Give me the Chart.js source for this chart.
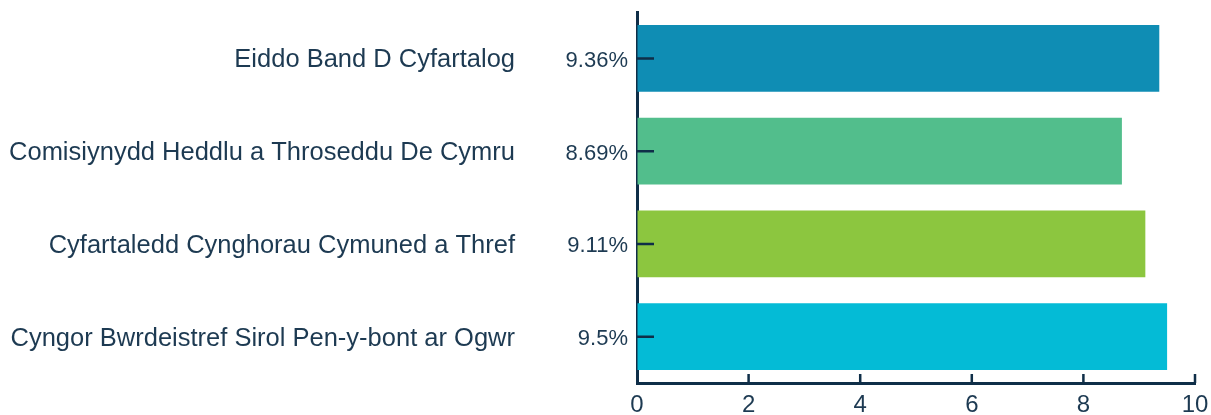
<!DOCTYPE html>
<html>
<head>
<meta charset="utf-8">
<script src="https://cdn.jsdelivr.net/npm/chart.js@4"></script>
<style>
html,body{margin:0;padding:0;background:#fff;}
#wrap{width:1211px;height:415px;position:relative;}
</style>
</head>
<body>
<div id="wrap"><canvas id="c" width="1211" height="415"></canvas></div>
<script>
const categories = [
  'Eiddo Band D Cyfartalog',
  'Comisiynydd Heddlu a Throseddu De Cymru',
  'Cyfartaledd Cynghorau Cymuned a Thref',
  'Cyngor Bwrdeistref Sirol Pen-y-bont ar Ogwr'
];
const values = [9.36, 8.69, 9.11, 9.5];
const valueLabels = ['9.36%', '8.69%', '9.11%', '9.5%'];
const xTicks = [0, 2, 4, 6, 8, 10];
const barColors = ['#0f8db4', '#52be8c', '#8cc63f', '#04bbd6'];

const axisColor = '#0f2e48';
const textColor = '#1d3a52';
const FONT = "'Liberation Sans', Arial, sans-serif";

function zeroPad(s) { s.paddingTop = 0; s.paddingBottom = 0; s.paddingLeft = 0; s.paddingRight = 0; }

const innerTicks = {
  id: 'innerTicks',
  afterDraw(chart) {
    const { ctx, chartArea } = chart;
    const xs = chart.scales.x, ys = chart.scales.y;
    ctx.save();
    ctx.strokeStyle = axisColor;
    ctx.lineWidth = 2.5;
    ctx.beginPath();
    valueLabels.forEach((_, i) => {
      const y = ys.getPixelForValue(i);
      ctx.moveTo(chartArea.left, y);
      ctx.lineTo(chartArea.left + 17, y);
    });
    xTicks.forEach(v => {
      if (v === 0) return;
      const x = xs.getPixelForValue(v);
      ctx.moveTo(x, chartArea.bottom);
      ctx.lineTo(x, chartArea.bottom - 9);
    });
    ctx.stroke();
    ctx.restore();
  }
};

new Chart(document.getElementById('c'), {
  type: 'bar',
  data: {
    labels: valueLabels,
    datasets: [{
      data: values,
      backgroundColor: barColors,
      borderWidth: 0,
      barPercentage: 0.72,
      categoryPercentage: 1
    }]
  },
  plugins: [innerTicks],
  options: {
    indexAxis: 'y',
    responsive: false,
    animation: false,
    events: [],
    layout: { padding: { top: 12, right: 16, left: 0, bottom: 0 } },
    plugins: { legend: { display: false }, tooltip: { enabled: false } },
    scales: {
      x: {
        type: 'linear',
        min: 0, max: 10,
        afterBuildTicks: (s) => { s.ticks = xTicks.map(v => ({ value: v })); },
        afterFit: (s) => { s.height = 32; zeroPad(s); },
        border: { display: true, color: axisColor, width: 3 },
        grid: { drawOnChartArea: false, drawTicks: false, tickLength: 0 },
        ticks: { color: textColor, font: { family: FONT, size: 24 }, padding: 8, maxRotation: 0 }
      },
      y: {
        type: 'category',
        position: 'left',
        offset: true,
        afterFit: (s) => { s.width = 100; zeroPad(s); },
        border: { display: true, color: axisColor, width: 3 },
        grid: { drawOnChartArea: false, drawTicks: false, tickLength: 0 },
        ticks: { color: textColor, font: { family: FONT, size: 22 }, padding: 9, labelOffset: 2.5 }
      },
      y2: {
        type: 'category',
        position: 'left',
        labels: categories,
        offset: true,
        afterFit: (s) => { s.width = 537; zeroPad(s); },
        border: { display: false },
        grid: { display: false, drawTicks: false, tickLength: 0 },
        ticks: { color: textColor, font: { family: FONT, size: 25.5 }, padding: 22, labelOffset: 2 }
      }
    }
  }
});
</script>
</body>
</html>
